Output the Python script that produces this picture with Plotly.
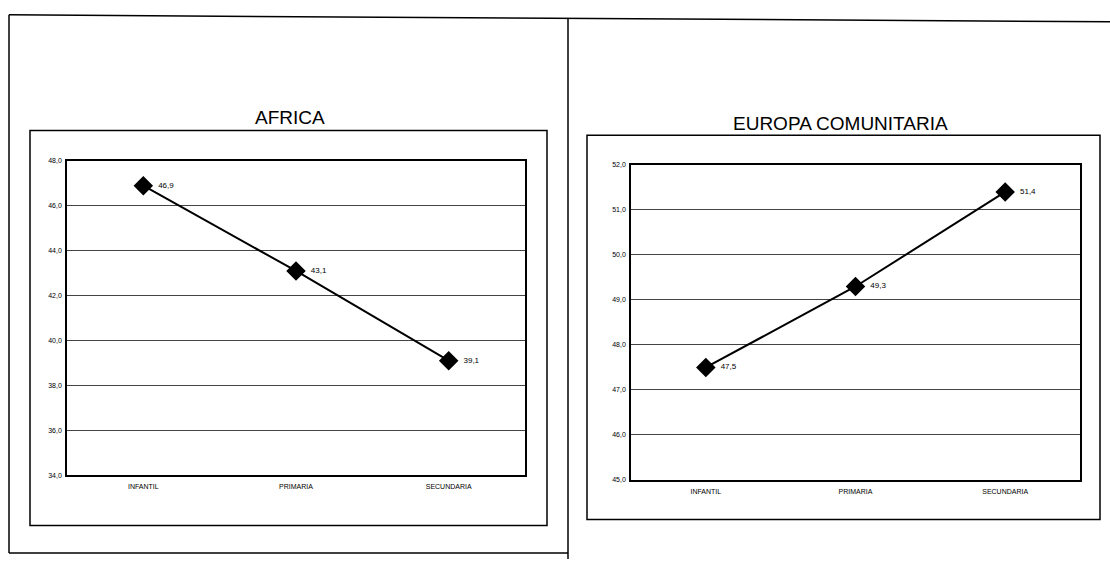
import plotly.graph_objects as go

categories = ["INFANTIL", "PRIMARIA", "SECUNDARIA"]
africa_values = [46.9, 43.1, 39.1]
europa_values = [47.5, 49.3, 51.4]
titles = ["AFRICA", "EUROPA COMUNITARIA"]
africa_ticks = [34, 36, 38, 40, 42, 44, 46, 48]
europa_ticks = [45, 46, 47, 48, 49, 50, 51, 52]

W, H = 1110, 562

def px(x):
    return x / W

def py(y):
    return 1 - y / H

fig = go.Figure()

for vals, xa, ya in [(africa_values, "x", "y"), (europa_values, "x2", "y2")]:
    fig.add_trace(go.Scatter(
        x=categories, y=vals, xaxis=xa, yaxis=ya,
        mode="lines+markers+text",
        line=dict(color="black", width=2),
        marker=dict(symbol="diamond", size=15, color="black"),
        texttemplate="  %{y:.1f}", textposition="middle right",
        textfont=dict(size=8, color="black", family="Liberation Sans, Arial"),
        cliponaxis=False, showlegend=False,
    ))

axis_common = dict(
    showline=True, linecolor="black", linewidth=1.5, mirror=True,
    ticks="", tickfont=dict(size=7, color="black", family="Liberation Sans, Arial"),
    zeroline=False, fixedrange=True,
)

fig.update_layout(
    width=W, height=H,
    margin=dict(l=0, r=0, t=0, b=0),
    paper_bgcolor="white", plot_bgcolor="white",
    separators=",.",
    font=dict(family="Liberation Sans, Arial", color="black"),
    xaxis=dict(domain=[px(67), px(525)], anchor="y", type="category",
               range=[-0.5, 2.5], showgrid=False, ticklabelstandoff=4, **axis_common),
    yaxis=dict(domain=[py(477), py(159)], anchor="x", range=[34, 48],
               tickvals=africa_ticks, tickformat=".1f", showgrid=True,
               gridcolor="#444", gridwidth=1, ticklabelstandoff=2, **axis_common),
    xaxis2=dict(domain=[px(631), px(1080)], anchor="y2", type="category",
                range=[-0.5, 2.5], showgrid=False, ticklabelstandoff=4, **axis_common),
    yaxis2=dict(domain=[py(482), py(163)], anchor="x2", range=[45, 52],
                tickvals=europa_ticks, tickformat=".1f", showgrid=True,
                gridcolor="#444", gridwidth=1, ticklabelstandoff=2, **axis_common),
)

# Titles
fig.add_annotation(text=titles[0], x=px(290), y=py(115), xref="paper", yref="paper",
                   xanchor="center", yanchor="middle",
                   showarrow=False, font=dict(size=19, color="black"))
fig.add_annotation(text=titles[1], x=px(840), y=py(121), xref="paper", yref="paper",
                   xanchor="center", yanchor="middle",
                   showarrow=False, font=dict(size=19, color="black"))

# Frames (scanned page borders)
line_style = dict(color="black", width=1.5)
shapes = [
    dict(type="line", x0=px(9), y0=py(11), x1=px(1110), y1=py(18)),
    dict(type="line", x0=px(9), y0=py(11), x1=px(9), y1=py(556)),
    dict(type="line", x0=px(9), y0=py(556), x1=px(568), y1=py(556)),
    dict(type="line", x0=px(568), y0=py(15), x1=px(568), y1=py(562)),
    dict(type="rect", x0=px(30), y0=py(128), x1=px(547), y1=py(528)),
    dict(type="rect", x0=px(587), y0=py(133), x1=px(1100), y1=py(522)),
]
for s in shapes:
    s.update(xref="paper", yref="paper", line=line_style)
fig.update_layout(shapes=shapes)

fig.write_html("out.html", config={"displayModeBar": False},
               post_script="document.body.style.margin='0';document.body.style.overflow='hidden';")
